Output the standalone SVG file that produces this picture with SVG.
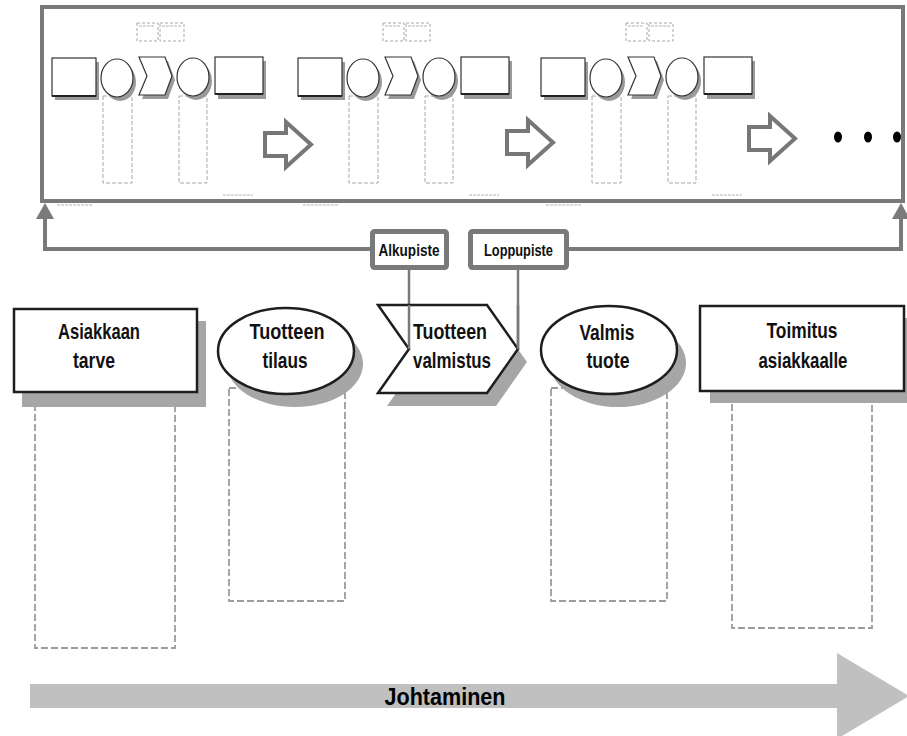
<svg xmlns="http://www.w3.org/2000/svg" xmlns:xlink="http://www.w3.org/1999/xlink" width="907" height="736" viewBox="0 0 907 736">
  <style>
    .frame { fill: #ffffff; stroke: #7a7a7a; stroke-width: 4; }
    .conn { fill: none; stroke: #7a7a7a; stroke-width: 4; }
    .lead { fill: none; stroke: #7a7a7a; stroke-width: 2.5; }
    .tag { fill: #ffffff; stroke: #7a7a7a; stroke-width: 5; }
    .tagtxt { font-family: "Liberation Sans", Arial, sans-serif; font-weight: bold; font-size: 17px; fill: #111111; text-anchor: middle; }
    .shape { fill: #ffffff; stroke: #1e1e1e; stroke-width: 2.5; }
    .shadow { fill: #a6a6a6; stroke: none; }
    .lbl { font-family: "Liberation Sans", Arial, sans-serif; font-weight: bold; font-size: 22.5px; fill: #111111; text-anchor: middle; }
    .slot { fill: none; stroke: #9c9c9c; stroke-width: 1.8; stroke-dasharray: 7 3; }
    .mini { fill: #ffffff; stroke: #333333; stroke-width: 1.2; }
    .minishadow { fill: #9a9a9a; stroke: none; }
    .minislot { fill: none; stroke: #a8a8a8; stroke-width: 1; stroke-dasharray: 4 2; }
    .minibox { fill: #ffffff; stroke: #a8a8a8; stroke-width: 1; stroke-dasharray: 3 2; }
    .scrib { stroke: #b4b4b4; stroke-width: 1.2; stroke-dasharray: 3 1; }
    .hollow { fill: #ffffff; stroke: #777777; stroke-width: 4; stroke-linejoin: miter; }
    .band { fill: #c0c0c0; }
    .bandtxt { font-family: "Liberation Sans", Arial, sans-serif; font-weight: bold; font-size: 24px; fill: #000000; text-anchor: middle; }
  </style>
  <defs>
    <marker id="head" viewBox="0 0 16 18" refX="0" refY="9" markerWidth="16" markerHeight="18" markerUnits="userSpaceOnUse" orient="auto">
      <path d="M0,0 L16,9 L0,18 Z" fill="#7a7a7a"/>
    </marker>
    <!-- one small process chain: box, circle, chevron, circle, box -->
    <g id="chain">
      <rect class="minislot" x="103" y="96" width="29" height="87"/>
      <rect class="minislot" x="179" y="96" width="28" height="87"/>
      <rect class="minibox" x="137" y="23" width="21" height="18"/>
      <rect class="minibox" x="160" y="23" width="24" height="18"/>
      <line class="scrib" x1="139" y1="26" x2="155" y2="26"/>
      <line class="scrib" x1="162" y1="26" x2="182" y2="26"/>
      <rect class="minishadow" x="55" y="62" width="44" height="38"/>
      <rect class="mini" x="52" y="58" width="44" height="38"/>
      <line x1="52" y1="96" x2="96" y2="96" stroke="#222" stroke-width="2"/>
      <ellipse class="minishadow" cx="120" cy="82" rx="16" ry="19"/>
      <ellipse class="mini" cx="117" cy="78" rx="16" ry="19"/>
      <polygon class="minishadow" points="142,61 168,61 175,80 168,99 142,99 150,80"/>
      <polygon class="mini" points="139,57 165,57 172,76 165,95 139,95 147,76"/>
      <ellipse class="minishadow" cx="196" cy="81" rx="16" ry="19"/>
      <ellipse class="mini" cx="193" cy="77" rx="16" ry="19"/>
      <rect class="minishadow" x="218" y="61" width="48" height="38"/>
      <rect class="mini" x="215" y="57" width="48" height="37"/>
      <line x1="215" y1="94" x2="263" y2="94" stroke="#222" stroke-width="2"/>
      <line class="scrib" x1="223" y1="195" x2="253" y2="195"/>
      <line class="scrib" x1="57" y1="205" x2="92" y2="205"/>
    </g>
    <path id="hollow" class="hollow" d="M0,11 H21 V0 L46,22.5 L21,45 V34 H0 Z"/>
  </defs>

  <rect width="907" height="736" fill="#ffffff"/>

  <!-- overview panel with the repeating chain -->
  <g id="overview">
    <rect class="frame" x="42" y="7" width="861" height="194"/>
    <use xlink:href="#chain"/>
    <use xlink:href="#chain" transform="translate(246,0)"/>
    <use xlink:href="#chain" transform="translate(489,0)"/>
    <use xlink:href="#hollow" transform="translate(265,122)"/>
    <use xlink:href="#hollow" transform="translate(507,120)"/>
    <use xlink:href="#hollow" transform="translate(749,116)"/>
    <ellipse cx="838" cy="137" rx="4" ry="5.5" fill="#000000"/>
    <ellipse cx="868" cy="137" rx="4" ry="5.5" fill="#000000"/>
    <ellipse cx="897" cy="137" rx="4" ry="5.5" fill="#000000"/>
  </g>

  <!-- connectors -->
  <g id="connectors">
    <path class="conn" d="M372,249 H45 V219" marker-end="url(#head)"/>
    <path class="conn" d="M568,249 H901 V219" marker-end="url(#head)"/>
    <path class="lead" d="M409,268 V349"/>
    <path class="lead" d="M518,268 V349"/>
  </g>

  <g id="alkupiste">
    <rect class="tag" x="372.5" y="231.5" width="74" height="36" rx="2"/>
    <text class="tagtxt" x="409" y="256" textLength="61" lengthAdjust="spacingAndGlyphs">Alkupiste</text>
  </g>
  <g id="loppupiste">
    <rect class="tag" x="470.5" y="231.5" width="96" height="36" rx="2"/>
    <text class="tagtxt" x="518.5" y="256" textLength="69" lengthAdjust="spacingAndGlyphs">Loppupiste</text>
  </g>

  <!-- dashed columns under the steps -->
  <g id="columns">
    <rect class="slot" x="35" y="395" width="140" height="253"/>
    <rect class="slot" x="229" y="388" width="116" height="213"/>
    <rect class="slot" x="551" y="388" width="116" height="213"/>
    <rect class="slot" x="732" y="395" width="140" height="233"/>
  </g>

  <g id="asiakkaan-tarve">
    <rect class="shadow" x="22" y="321" width="184" height="86"/>
    <rect class="shape" x="14" y="309" width="183" height="83"/>
    <text class="lbl" x="99" y="339" textLength="82" lengthAdjust="spacingAndGlyphs">Asiakkaan</text>
    <text class="lbl" x="94" y="368" textLength="42" lengthAdjust="spacingAndGlyphs">tarve</text>
  </g>

  <g id="tuotteen-tilaus">
    <ellipse class="shadow" cx="295" cy="364" rx="68" ry="43"/>
    <ellipse class="shape" cx="286" cy="351" rx="68" ry="43"/>
    <text class="lbl" x="287" y="339" textLength="75" lengthAdjust="spacingAndGlyphs">Tuotteen</text>
    <text class="lbl" x="285" y="368" textLength="45" lengthAdjust="spacingAndGlyphs">tilaus</text>
  </g>

  <g id="tuotteen-valmistus">
    <polygon class="shadow" points="387,318 496,318 527,362 496,406 387,406 418,362"/>
    <polygon class="shape" points="378,305 487,305 518,349 487,393 378,393 409,349"/>
    <text class="lbl" x="450" y="339" textLength="74" lengthAdjust="spacingAndGlyphs">Tuotteen</text>
    <text class="lbl" x="452" y="368" textLength="78" lengthAdjust="spacingAndGlyphs">valmistus</text>
  </g>
  <!-- leader lines drawn over the chevron face -->
  <g id="leaders-top">
    <path class="lead" d="M409,305 V349"/>
    <path class="lead" d="M518,305 V349"/>
  </g>

  <g id="valmis-tuote">
    <ellipse class="shadow" cx="618" cy="363" rx="68" ry="44"/>
    <ellipse class="shape" cx="609" cy="350" rx="68" ry="44"/>
    <text class="lbl" x="607" y="340" textLength="55" lengthAdjust="spacingAndGlyphs">Valmis</text>
    <text class="lbl" x="608" y="368" textLength="43" lengthAdjust="spacingAndGlyphs">tuote</text>
  </g>

  <g id="toimitus-asiakkaalle">
    <rect class="shadow" x="710" y="318" width="197" height="85"/>
    <rect class="shape" x="700" y="306" width="204" height="85"/>
    <text class="lbl" x="802" y="338" textLength="71" lengthAdjust="spacingAndGlyphs">Toimitus</text>
    <text class="lbl" x="803" y="368" textLength="89" lengthAdjust="spacingAndGlyphs">asiakkaalle</text>
  </g>

  <!-- management band -->
  <g id="johtaminen">
    <polygon class="band" points="30,684 837,684 837,653 909,696 837,739 837,708 30,708"/>
    <text class="bandtxt" x="445" y="705" textLength="121" lengthAdjust="spacingAndGlyphs">Johtaminen</text>
  </g>
</svg>
